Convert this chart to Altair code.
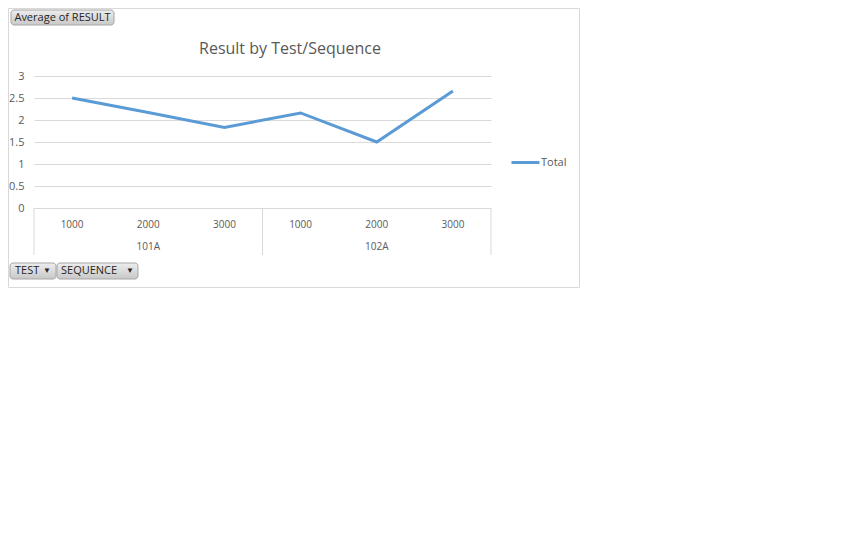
import altair as alt
import pandas as pd

# ---- data ----
tests = ["101A", "101A", "101A", "102A", "102A", "102A"]
sequences = ["1000", "2000", "3000", "1000", "2000", "3000"]
values = [2.5, 2.17, 1.83, 2.16, 1.5, 2.66]
series_name = "Total"
y_ticks = [0, 0.5, 1, 1.5, 2, 2.5, 3]
separators = [-0.5, 2.5, 5.5]
chart_title = "Result by Test/Sequence"
value_button = "Average of RESULT"
axis_buttons = ["TEST", "SEQUENCE"]

FONT = "Open Sans"
GRAY_TXT = "#595959"
GRID = "#D9D9D9"
LINE = "#5B9BD5"

df = pd.DataFrame({
    "idx": list(range(len(values))),
    "test": tests,
    "seq": sequences,
    "value": values,
    "series": [series_name] * len(values),
})
sep_df = pd.DataFrame({"pos": separators})
one = pd.DataFrame({"a": [0]})

W, H = 457, 132
XSCALE = alt.Scale(domain=[-0.5, len(values) - 0.5], nice=False, zero=False)
X = alt.X("idx:Q", scale=XSCALE, axis=None)

line = alt.Chart(df).mark_line(strokeWidth=3).encode(
    x=X,
    y=alt.Y("value:Q",
            scale=alt.Scale(domain=[0, 3], nice=False),
            axis=alt.Axis(values=y_ticks, format="~g", grid=True, gridColor=GRID,
                          gridWidth=1, domain=False, ticks=False, labelPadding=10,
                          labelColor=GRAY_TXT, labelFontSize=11, labelFont=FONT, title=None)),
    color=alt.Color("series:N",
                    scale=alt.Scale(domain=[series_name], range=[LINE]),
                    legend=alt.Legend(title=None, orient="none", legendX=476, legendY=71,
                                      symbolType="stroke", symbolSize=784,
                                      symbolStrokeWidth=3, labelFont=FONT,
                                      labelFontSize=11, labelColor=GRAY_TXT,
                                      labelOffset=0)),
)

seq_labels = alt.Chart(df).mark_text(font=FONT, fontSize=10, color=GRAY_TXT, baseline="middle").encode(
    x=X, y=alt.value(149), text="seq:N"
)

test_labels = alt.Chart(df).transform_aggregate(
    center="mean(idx)", groupby=["test"]
).mark_text(font=FONT, fontSize=10, color=GRAY_TXT, baseline="middle").encode(
    x=alt.X("center:Q", scale=XSCALE, axis=None),
    y=alt.value(171), text="test:N"
)

sep_rules = alt.Chart(sep_df).mark_rule(color=GRID, strokeWidth=1).encode(
    x=alt.X("pos:Q", scale=XSCALE, axis=None),
    y=alt.value(132), y2=alt.value(179)
)

title = alt.Chart(one).mark_text(font=FONT, fontSize=16, color=GRAY_TXT, baseline="middle",
                                 align="center").encode(
    x=alt.value(256), y=alt.value(-27), text=alt.value(chart_title)
)

grad = alt.Gradient(gradient="linear", x1=0, y1=0, x2=0, y2=1,
                    stops=[alt.GradientStop(color="#EDEDED", offset=0),
                           alt.GradientStop(color="#C8C8C8", offset=1)])


def button(x1, x2, y1, y2):
    return alt.Chart(one).mark_rect(fill=grad, stroke="#A6A6A6", strokeWidth=1, cornerRadius=3).encode(
        x=alt.value(x1), x2=alt.value(x2), y=alt.value(y1), y2=alt.value(y2)
    )


def label(x, y, t, align="left", size=11):
    return alt.Chart(one).mark_text(font=FONT, fontSize=size, color="#262626", baseline="middle",
                                    align=align).encode(
        x=alt.value(x), y=alt.value(y), text=alt.value(t)
    )


b1 = button(-23, 80, -66, -51)
b1t = label(28.5, -58.5, value_button, align="center")
b2 = button(-24, 22, 187, 203)
b2t = label(-19, 195, axis_buttons[0])
b2a = label(13, 195, "▼", align="center", size=8)
b3 = button(23, 104, 187, 203)
b3t = label(27, 195, axis_buttons[1])
b3a = label(96, 195, "▼", align="center", size=8)

frame = alt.Chart(one).mark_rect(fill=None, stroke=GRID, strokeWidth=1).encode(
    x=alt.value(-25.5), x2=alt.value(545.5), y=alt.value(-67.5), y2=alt.value(211.5)
)

chart = alt.layer(
    frame, sep_rules, line, seq_labels, test_labels, title,
    b1, b1t, b2, b2t, b2a, b3, b3t, b3a
).properties(
    width=W, height=H,
    padding={"left": 26, "top": 68, "right": 89, "bottom": 80},
    autosize="none",
    background="white",
).configure_view(stroke=None)

chart.save("out.html", embed_options={"renderer": "svg", "actions": False})
